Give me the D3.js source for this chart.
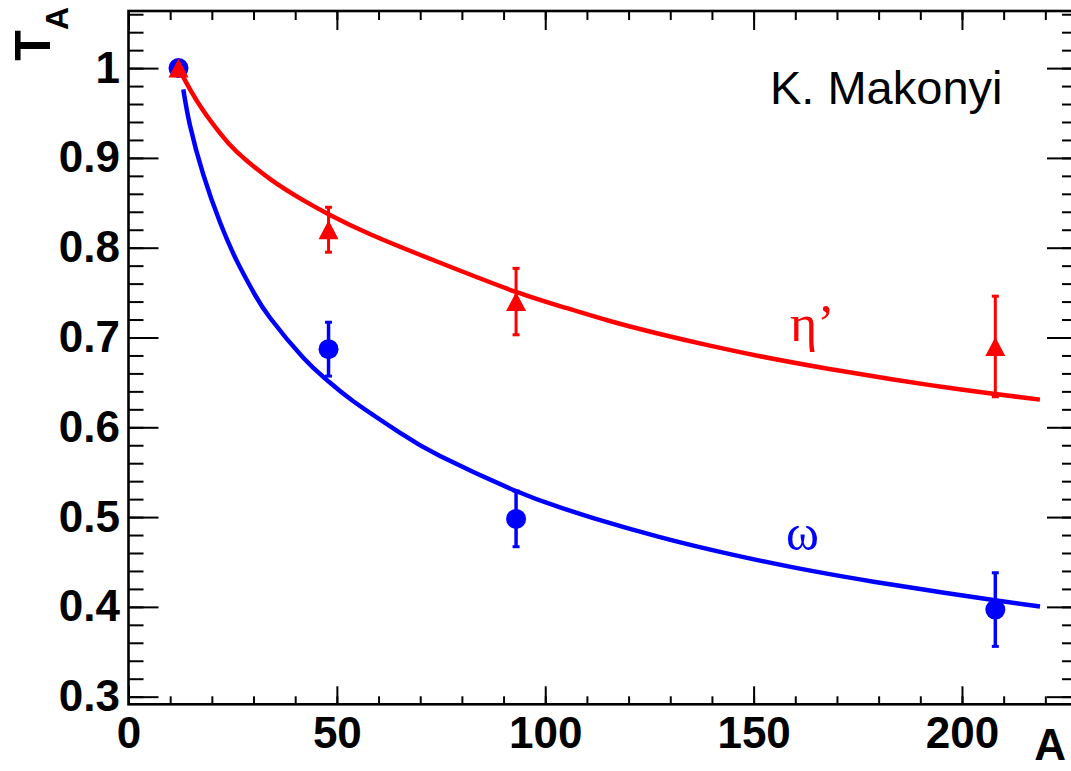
<!DOCTYPE html>
<html>
<head>
<meta charset="utf-8">
<script src="https://cdn.jsdelivr.net/npm/d3@7"></script>
<style>
  html, body { margin: 0; padding: 0; background: #fff; }
  svg { display: block; }
</style>
</head>
<body>
<svg id="chart" width="1071" height="771"></svg>
<script>
// Transparency ratio T_A versus mass number A (C, Ti, Nb, Pb targets)
const massNumbers = [12, 48, 93, 208];

const omegaT   = [1.0, 0.687, 0.498, 0.397];
const omegaErr = [0.0, 0.030, 0.031, 0.041];

const etaPrimeT   = [1.0, 0.820, 0.740, 0.690];
const etaPrimeErr = [0.0, 0.025, 0.037, 0.056];

// Fitted curves, sampled along A
const omegaFitA = [13.15, 14.76, 17.95, 21.96, 25.96, 29.95, 33.95, 41.94, 47.56, 53.94, 65.15, 74.75, 92.98, 103.54, 111.53, 127.53, 143.54, 159.52, 175.52, 191.53, 207.51, 218.72];
const omegaFitT = [0.9764, 0.9361, 0.8813, 0.8283, 0.7856, 0.7508, 0.7220, 0.6775, 0.6528, 0.6290, 0.5938, 0.5679, 0.5290, 0.5108, 0.4989, 0.4777, 0.4596, 0.4440, 0.4306, 0.4187, 0.4077, 0.4004];

const etaPrimeFitA = [12, 14.8, 18, 22, 26, 34, 42, 48, 58, 74, 93, 105, 115.5, 127.5, 139.5, 151.5, 167.5, 183.5, 195.5, 207.5, 218.7];
const etaPrimeFitT = [1.000, 0.9761, 0.9523, 0.9273, 0.9068, 0.8764, 0.8527, 0.8373, 0.8150, 0.7846, 0.7507, 0.7329, 0.7184, 0.7039, 0.6909, 0.6792, 0.6655, 0.6532, 0.6449, 0.6373, 0.6308];

// Axis ticks
const xMajorTicks = [0, 50, 100, 150, 200];
const xMinorTicks = d3.range(0, 228, 10);
const yMajorTicks = [0.3, 0.4, 0.5, 0.6, 0.7, 0.8, 0.9, 1.0];
const yMinorTicks = d3.range(0, 39).map(i => +(0.3 + i * 0.02).toFixed(2));

const xTickLabels = ["0", "50", "100", "150", "200"];
const yTickLabels = ["0.3", "0.4", "0.5", "0.6", "0.7", "0.8", "0.9", "1"];

const RED = "#ff0000";
const BLUE = "#0000ff";
const SANS = "'Liberation Sans', Arial, Helvetica, sans-serif";
const SERIF = "'Liberation Serif', 'Times New Roman', 'DejaVu Serif', serif";

const svg = d3.select("#chart");

const frame = { left: 128.5, right: 1077, top: 11, bottom: 704.3 };

const x = d3.scaleLinear().domain([0, 227.6]).range([frame.left, frame.right]);
const y = d3.scaleLinear().domain([0.2915, 1.0636]).range([frame.bottom, frame.top]);

// ---- Axes ----
function styleAxis(g, width) {
  g.select(".domain").remove();
  g.selectAll(".tick line").attr("stroke", "#000").attr("stroke-width", width);
}

// bottom
svg.append("g").attr("transform", `translate(0,${frame.bottom})`)
  .call(d3.axisBottom(x).tickValues(xMinorTicks).tickSize(-8).tickFormat(""))
  .call(g => styleAxis(g, 2));
const xAxis = svg.append("g").attr("transform", `translate(0,${frame.bottom})`)
  .call(d3.axisBottom(x).tickValues(xMajorTicks).tickSize(-18).tickPadding(12)
    .tickFormat((d, i) => xTickLabels[i]))
  .call(g => styleAxis(g, 2));
xAxis.selectAll("text")
  .style("font-family", SANS).style("font-size", "44px").style("font-weight", "bold")
  .attr("fill", "#000");

// top
svg.append("g").attr("transform", `translate(0,${frame.top})`)
  .call(d3.axisTop(x).tickValues(xMinorTicks).tickSize(-9).tickFormat(""))
  .call(g => styleAxis(g, 2));
svg.append("g").attr("transform", `translate(0,${frame.top})`)
  .call(d3.axisTop(x).tickValues(xMajorTicks).tickSize(-19).tickFormat(""))
  .call(g => styleAxis(g, 2));

// left
svg.append("g").attr("transform", `translate(${frame.left},0)`)
  .call(d3.axisLeft(y).tickValues(yMinorTicks).tickSize(-15).tickFormat(""))
  .call(g => styleAxis(g, 2));
const yAxis = svg.append("g").attr("transform", `translate(${frame.left},0)`)
  .call(d3.axisLeft(y).tickValues(yMajorTicks).tickSize(-30).tickPadding(8.5)
    .tickFormat((d, i) => yTickLabels[i]))
  .call(g => styleAxis(g, 2));
yAxis.selectAll("text")
  .style("font-family", SANS).style("font-size", "44px").style("font-weight", "bold")
  .attr("fill", "#000");

// right
svg.append("g").attr("transform", `translate(${frame.right},0)`)
  .call(d3.axisRight(y).tickValues(yMinorTicks).tickSize(-15).tickFormat(""))
  .call(g => styleAxis(g, 2));
svg.append("g").attr("transform", `translate(${frame.right},0)`)
  .call(d3.axisRight(y).tickValues(yMajorTicks).tickSize(-30).tickFormat(""))
  .call(g => styleAxis(g, 2));

// frame
svg.append("rect")
  .attr("x", frame.left).attr("y", frame.top)
  .attr("width", frame.right - frame.left).attr("height", frame.bottom - frame.top)
  .attr("fill", "none").attr("stroke", "#000").attr("stroke-width", 2.6);

// ---- Axis titles ----
const yTitle = svg.append("text")
  .attr("transform", "translate(50,7) rotate(-90)")
  .attr("text-anchor", "end")
  .style("font-family", SANS).style("font-weight", "bold").style("font-size", "50px")
  .attr("fill", "#000");
yTitle.append("tspan").text("T");
yTitle.append("tspan").style("font-size", "32px").attr("dy", 18).text("A");

svg.append("text")
  .attr("x", 1066).attr("y", 760)
  .attr("text-anchor", "end")
  .style("font-family", SANS).style("font-weight", "bold").style("font-size", "44px")
  .attr("fill", "#000")
  .text("A");

// ---- Fit curves ----
const line = d3.line().x(d => x(d[0])).y(d => y(d[1])).curve(d3.curveNatural);

svg.append("path")
  .datum(d3.zip(omegaFitA, omegaFitT))
  .attr("d", line).attr("fill", "none")
  .attr("stroke", BLUE).attr("stroke-width", 4.5);

svg.append("path")
  .datum(d3.zip(etaPrimeFitA, etaPrimeFitT))
  .attr("d", line).attr("fill", "none")
  .attr("stroke", RED).attr("stroke-width", 4.5);

// ---- Data points with error bars ----
function errorBars(values, errs, color, width) {
  const g = svg.append("g").attr("stroke", color).attr("fill", color);
  massNumbers.forEach((a, i) => {
    if (errs[i] <= 0) return;
    const cx = x(a), y0 = y(values[i] - errs[i]), y1 = y(values[i] + errs[i]);
    g.append("line").attr("x1", cx).attr("x2", cx).attr("y1", y0).attr("y2", y1)
      .attr("stroke-width", width);
    [y0, y1].forEach(yy => {
      g.append("rect").attr("x", cx - 3.5).attr("y", yy - 1.5)
        .attr("width", 7).attr("height", 3).attr("stroke", "none");
    });
  });
}

errorBars(omegaT, omegaErr, BLUE, 3.5);
errorBars(etaPrimeT, etaPrimeErr, RED, 3);

svg.append("g").selectAll("circle")
  .data(d3.zip(massNumbers, omegaT))
  .join("circle")
  .attr("cx", d => x(d[0])).attr("cy", d => y(d[1]))
  .attr("r", 10).attr("fill", BLUE);

const triW = 20, triH = 19;
svg.append("g").selectAll("path")
  .data(d3.zip(massNumbers, etaPrimeT))
  .join("path")
  .attr("d", d => {
    const cx = x(d[0]), cy = y(d[1]);
    return `M${cx},${cy - triH / 2}L${cx + triW / 2},${cy + triH / 2}L${cx - triW / 2},${cy + triH / 2}Z`;
  })
  .attr("fill", RED);

// ---- Labels ----
svg.append("text")
  .attr("x", 770).attr("y", 104)
  .style("font-family", SANS).style("font-size", "47px")
  .attr("fill", "#000")
  .text("K. Makonyi");

svg.append("text")
  .attr("x", 790).attr("y", 341)
  .style("font-family", SERIF).style("font-size", "52px")
  .attr("fill", RED)
  .text("η’");

svg.append("text")
  .attr("x", 786).attr("y", 550)
  .style("font-family", SERIF).style("font-size", "50px")
  .attr("fill", BLUE)
  .text("ω");
</script>
</body>
</html>
